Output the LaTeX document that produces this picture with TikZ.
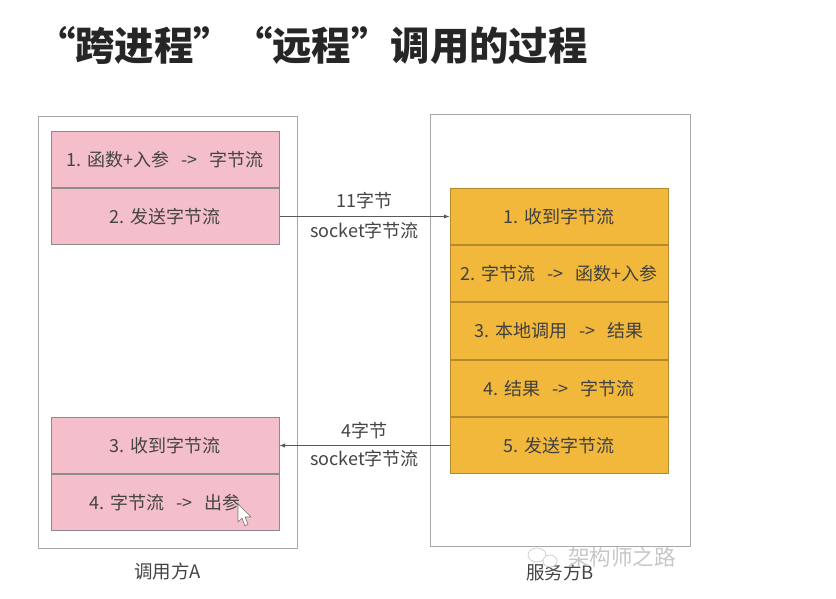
\documentclass[tikz,border=0pt]{standalone}
\usepackage{fontspec}
\setmainfont{Noto Sans CJK SC}
\usepackage{xcolor}
\usetikzlibrary{positioning}
\definecolor{stepnk}{HTML}{F4BFCA}
\definecolor{stepyl}{HTML}{F1B83C}
\definecolor{linegr}{HTML}{A8A8A8}
\definecolor{textgr}{HTML}{444444}
\newcommand{\toarrow}{\hspace{12pt}->\hspace{12pt}}

\begin{document}
\begin{tikzpicture}[x=1pt, y=-1pt,
  outerbox/.style={draw=linegr,fill=white,line width=1pt,inner sep=0pt,minimum width=259pt,minimum height=432pt},
  pinkbox/.style={draw=black!45,fill=stepnk,line width=1pt,inner sep=0pt,minimum width=228pt,minimum height=56pt,text=textgr,font=\fontsize{18}{20}\selectfont},
  yellowbox/.style={draw=black!25!stepyl,fill=stepyl,line width=1pt,inner sep=0pt,minimum width=218pt,minimum height=56.25pt,text=black!75,font=\fontsize{18}{20}\selectfont},
  lbl/.style={text=textgr,inner sep=0pt,font=\fontsize{18}{20}\selectfont},
  conn/.style={draw=black!65,line width=0.9pt,-latex}]
\useasboundingbox (0,0) rectangle (836,598);
\node[inner sep=0pt,anchor=west,font=\fontsize{39.4}{44}\selectfont\bfseries,text=black!85] (title) at (36,45) {“跨进程”“远程”调用的过程};
\node[outerbox] (callerA) at (167.5,332) {};
\node[outerbox,minimum width=260pt] (serverB) at (560,330) {};
% left side
\node[pinkbox] (encodeA) at (165,159.5) {1. 函数+入参\toarrow 字节流};
\node[pinkbox,below=0pt of encodeA] (sendA) {2. 发送字节流};
\node[pinkbox] (recvA) at (165,445.5) {3. 收到字节流};
\node[pinkbox,below=0pt of recvA] (decodeA) {4. 字节流\toarrow 出参};
% right side
\node[yellowbox] (recvB) at (559,216.5) {1. 收到字节流};
\node[yellowbox,below=0pt of recvB] (decodeB) {2. 字节流\toarrow 函数+入参};
\node[yellowbox,below=0pt of decodeB] (callB) {3. 本地调用\toarrow 结果};
\node[yellowbox,below=0pt of callB] (encodeB) {4. 结果\toarrow 字节流};
\node[yellowbox,below=0pt of encodeB] (sendB) {5. 发送字节流};
\draw[conn] (sendA.east) -- (recvB.west)
  node[lbl,midway,above=7pt] (reqlen) {11字节}
  node[lbl,midway,below=5pt] (reqsock) {socket字节流};
\draw[conn] (sendB.west) -- (recvA.east)
  node[lbl,midway,above=6pt] (resplen) {4字节}
  node[lbl,midway,below=4pt] (respsock) {socket字节流};
\node[lbl,below=14pt of callerA,font=\fontsize{18.5}{20}\selectfont] (nameA) {调用方A};
\node[lbl,below=17pt of serverB,font=\fontsize{18.5}{20}\selectfont] (nameB) {服务方B};
\node[inner sep=0pt,anchor=west,text=black!22,font=\fontsize{21.5}{24}\selectfont] (mark) at (568,557) {架构师之路};
% mouse pointer
\draw[black!55,fill=white,line width=0.6pt,line join=round] (238,504) -- (238,522) -- (242,518) -- (245,526) -- (248,524) -- (245,517) -- (251,517) -- cycle;
% watermark icon
\draw[black!18,fill=white,line width=0.8pt] (537,555) ellipse (9pt and 7pt);
\draw[black!18,fill=white,line width=0.8pt] (550,561) ellipse (7pt and 6pt);
\end{tikzpicture}
\end{document}
